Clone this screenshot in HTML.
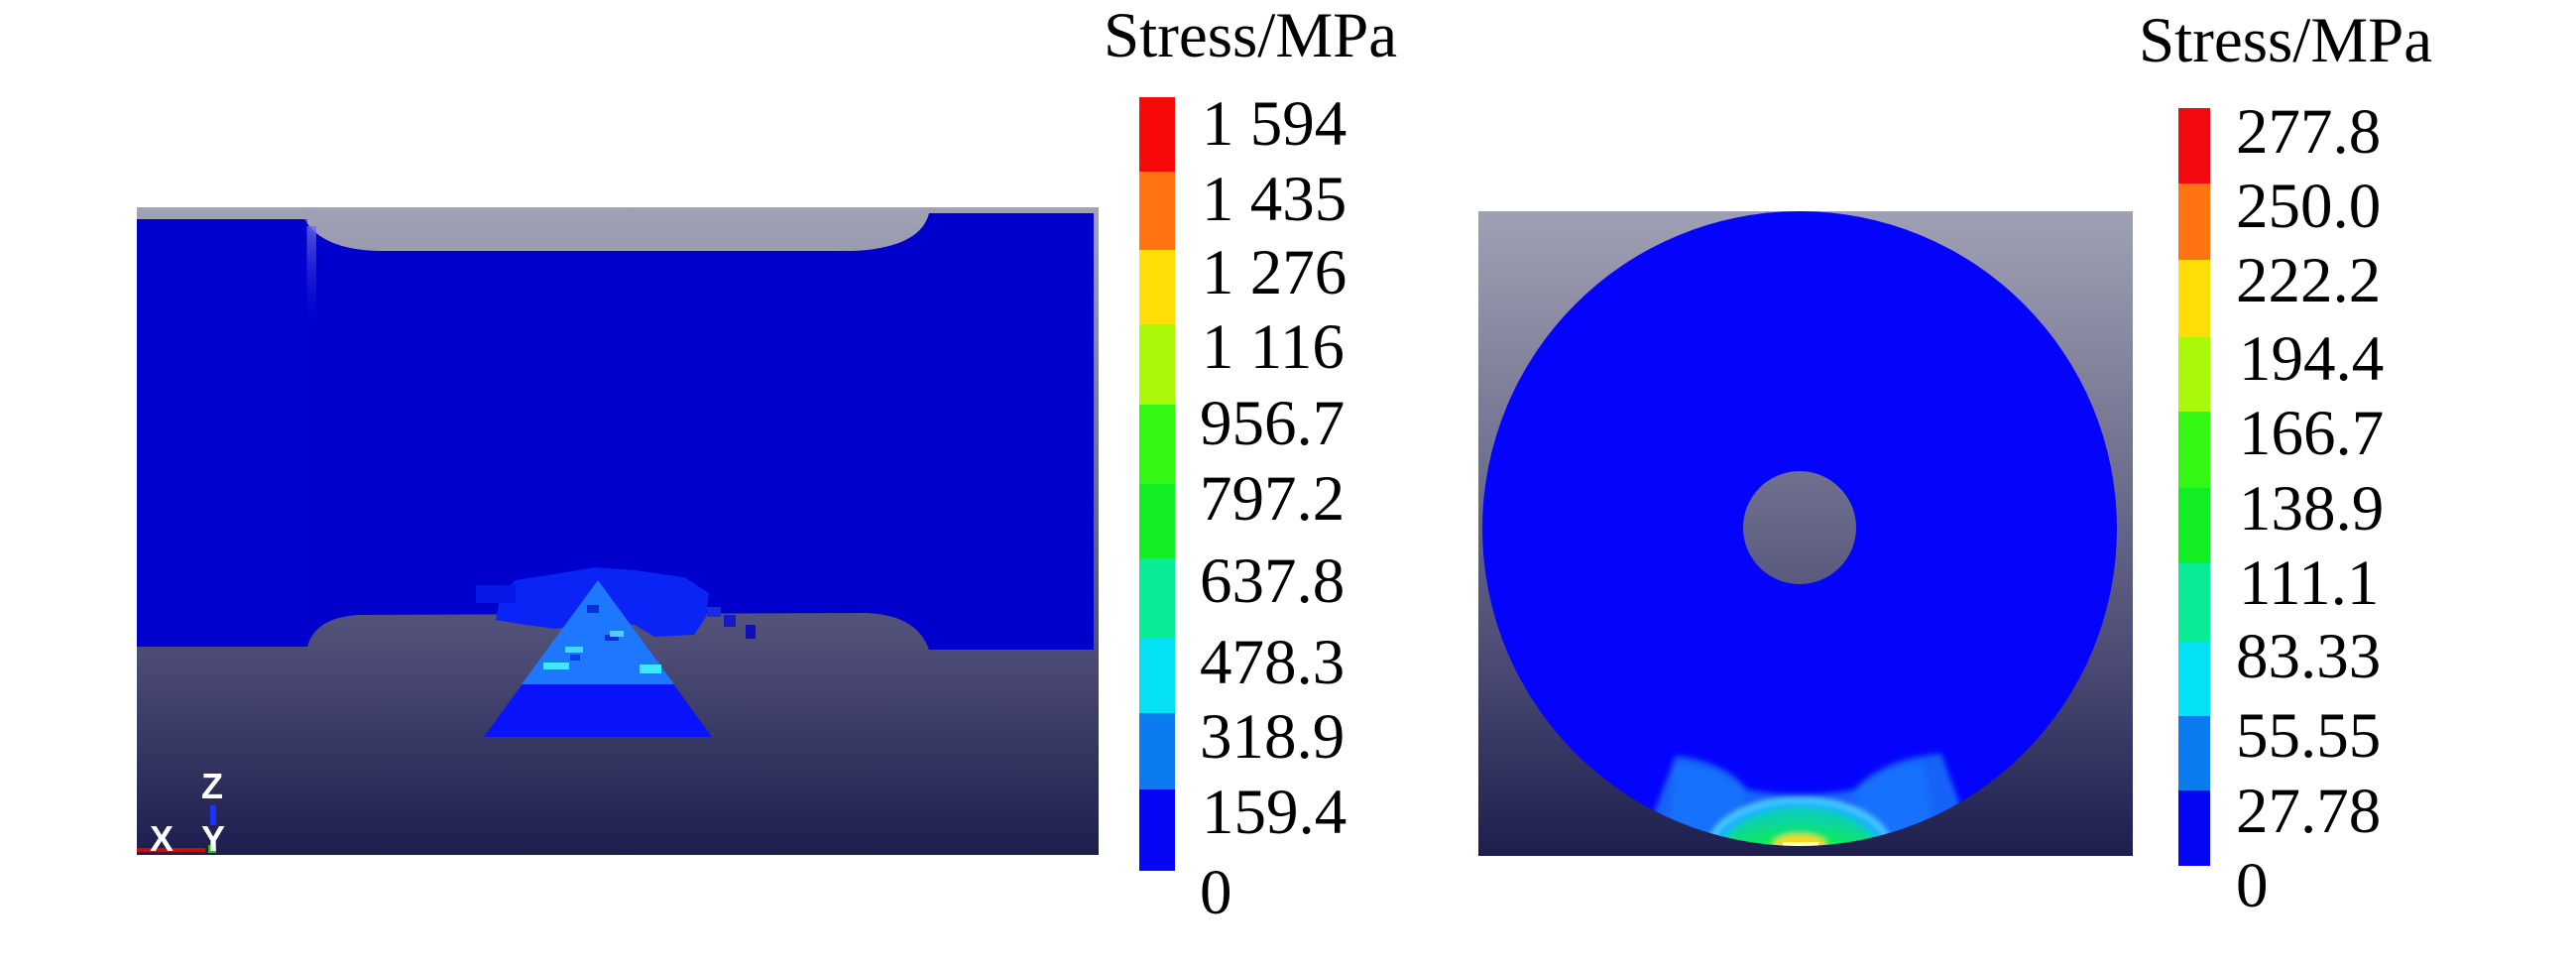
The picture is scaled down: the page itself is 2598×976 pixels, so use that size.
<!DOCTYPE html>
<html>
<head>
<meta charset="utf-8">
<style>
html,body{margin:0;padding:0;background:#fff;}
body{width:2598px;height:976px;overflow:hidden;position:relative;}
svg{position:absolute;left:0;top:0;}
.t{font-family:"Liberation Serif",serif;font-size:65px;fill:#000;}
.ax{font-family:"Liberation Sans",sans-serif;font-weight:bold;font-size:36px;fill:#fff;}
</style>
</head>
<body>
<svg width="2598" height="976" viewBox="0 0 2598 976" xmlns="http://www.w3.org/2000/svg">
<defs>
<linearGradient id="bgL" gradientUnits="userSpaceOnUse" x1="0" y1="209" x2="0" y2="862">
<stop offset="0" stop-color="#a2a2b6"/>
<stop offset="0.45" stop-color="#6a6a8a"/>
<stop offset="0.7" stop-color="#4a4a74"/>
<stop offset="1" stop-color="#1e1e4e"/>
</linearGradient>
<linearGradient id="bgR" gradientUnits="userSpaceOnUse" x1="0" y1="213" x2="0" y2="863">
<stop offset="0" stop-color="#a0a0b4"/>
<stop offset="0.45" stop-color="#6a6a8a"/>
<stop offset="0.7" stop-color="#4a4a74"/>
<stop offset="1" stop-color="#1e1e4e"/>
</linearGradient>
<linearGradient id="streak" x1="0" y1="0" x2="0" y2="1">
<stop offset="0" stop-color="#6a6ae8" stop-opacity="0.8"/>
<stop offset="1" stop-color="#0000cd" stop-opacity="0"/>
</linearGradient>
<radialGradient id="grn" cx="0.5" cy="1" r="0.9">
<stop offset="0" stop-color="#b0f000"/>
<stop offset="0.35" stop-color="#30f020"/>
<stop offset="0.75" stop-color="#10e860"/>
<stop offset="1" stop-color="#10d0b0"/>
</radialGradient>
<filter id="soft" x="-10%" y="-10%" width="120%" height="120%"><feGaussianBlur stdDeviation="3"/></filter>
<clipPath id="circ"><circle cx="1815" cy="533" r="320"/></clipPath>
</defs>

<!-- LEFT PANEL -->
<rect x="138" y="209" width="970" height="653" fill="url(#bgL)"/>
<path d="M138,221 L307,221 Q325,252 383,253 L860,253 Q928,250 937,215 L1103,215 L1103,655 L937,655 Q925,620 873,618 L363,620 Q318,622 310,652 L138,652 Z" fill="#0000cd"/>
<rect x="309" y="228" width="10" height="110" fill="url(#streak)"/>
<rect x="138" y="221" width="172" height="431" fill="#0202d2" opacity="0.5"/>

<!-- blotches near triangle -->
<path d="M505,600 L520,585 L565,578 L600,572 L640,575 L690,582 L715,598 L712,622 L700,640 L660,642 L640,630 L600,628 L560,634 L530,630 L500,625 Z" fill="#0a24f6"/>
<rect x="480" y="590" width="40" height="18" fill="#0818e8"/>
<rect x="730" y="620" width="12" height="12" fill="#1818c8"/>
<rect x="752" y="630" width="10" height="14" fill="#1010b8"/>
<rect x="713" y="612" width="14" height="10" fill="#1a2ae0"/>

<!-- triangle -->
<polygon points="603,585 488,743 718,743" fill="#0a14fa"/>
<polygon points="603,585 526,690 680,690" fill="#1e78ff"/>
<rect x="592" y="610" width="12" height="8" fill="#0a30d8"/>
<rect x="610" y="640" width="14" height="6" fill="#0a30d8"/>
<rect x="575" y="660" width="10" height="6" fill="#0a40e0"/>
<rect x="548" y="668" width="26" height="7" fill="#40e8ff"/>
<rect x="570" y="652" width="18" height="6" fill="#40d8ff"/>
<rect x="645" y="670" width="22" height="9" fill="#40e8ff"/>
<rect x="615" y="636" width="14" height="6" fill="#50d0ff"/>

<!-- axis triad -->
<line x1="138" y1="857" x2="207" y2="857" stroke="#c01010" stroke-width="4"/>
<line x1="215" y1="812" x2="215" y2="832" stroke="#2030ff" stroke-width="6"/>
<rect x="210" y="852" width="8" height="8" fill="#20c020"/>
<text class="ax" x="203" y="805">Z</text>
<text class="ax" x="151" y="858">X</text>
<text class="ax" x="203" y="858">Y</text>

<!-- LEFT COLORBAR -->
<rect x="1149" y="98" width="36" height="75" fill="#f80a0a"/>
<rect x="1149" y="173" width="36" height="79" fill="#ff7410"/>
<rect x="1149" y="252" width="36" height="75" fill="#ffde08"/>
<rect x="1149" y="327" width="36" height="81" fill="#a8f808"/>
<rect x="1149" y="408" width="36" height="80" fill="#34f814"/>
<rect x="1149" y="488" width="36" height="75" fill="#12ee24"/>
<rect x="1149" y="563" width="36" height="81" fill="#08ec98"/>
<rect x="1149" y="644" width="36" height="75" fill="#04e0f4"/>
<rect x="1149" y="719" width="36" height="77" fill="#0a7cf0"/>
<rect x="1149" y="796" width="36" height="82" fill="#0606f6"/>

<text class="t" x="1113" y="57">Stress/MPa</text>
<text class="t" x="1212" y="146">1 594</text>
<text class="t" x="1212" y="222">1 435</text>
<text class="t" x="1212" y="296">1 276</text>
<text class="t" x="1212" y="371">1 116</text>
<text class="t" x="1210" y="448">956.7</text>
<text class="t" x="1210" y="524">797.2</text>
<text class="t" x="1210" y="607">637.8</text>
<text class="t" x="1210" y="689">478.3</text>
<text class="t" x="1210" y="764">318.9</text>
<text class="t" x="1212" y="840">159.4</text>
<text class="t" x="1210" y="921">0</text>

<!-- RIGHT PANEL -->
<rect x="1491" y="213" width="660" height="650" fill="url(#bgR)"/>
<path fill-rule="evenodd" d="M1495,533 A320,320 0 1,0 2135,533 A320,320 0 1,0 1495,533 Z M1758,532 A57,57 0 1,0 1872,532 A57,57 0 1,0 1758,532 Z" fill="#0404fc"/>
<g clip-path="url(#circ)">
<g filter="url(#soft)">
<path d="M1668,820 L1690,762 Q1740,768 1762,796 Q1815,806 1870,796 Q1900,764 1958,760 L1980,820 L1980,880 L1660,880 Z" fill="#1464f8"/>
<path d="M1690,770 Q1740,775 1760,800 L1740,880 L1680,880 Z" fill="#1a80ff" opacity="0.5"/>
<path d="M1940,770 Q1895,775 1870,800 L1890,880 L1955,880 Z" fill="#1a80ff" opacity="0.5"/>
<ellipse cx="1815" cy="858" rx="92" ry="52" fill="#18b0ff" stroke="#60e8ff" stroke-width="3"/>
<ellipse cx="1815" cy="860" rx="80" ry="46" fill="url(#grn)"/>
<ellipse cx="1815" cy="852" rx="26" ry="10" fill="#ffd800"/>
</g>
<rect x="1798" y="849" width="36" height="5" fill="#ffffe0"/>
</g>

<!-- RIGHT COLORBAR -->
<rect x="2197" y="109" width="32" height="76" fill="#f20a10"/>
<rect x="2197" y="185" width="32" height="77" fill="#ff7410"/>
<rect x="2197" y="262" width="32" height="78" fill="#ffde08"/>
<rect x="2197" y="340" width="32" height="75" fill="#a8f808"/>
<rect x="2197" y="415" width="32" height="77" fill="#34f814"/>
<rect x="2197" y="492" width="32" height="76" fill="#12ee24"/>
<rect x="2197" y="568" width="32" height="80" fill="#08ec98"/>
<rect x="2197" y="648" width="32" height="74" fill="#04e0f4"/>
<rect x="2197" y="722" width="32" height="75" fill="#0a7cf0"/>
<rect x="2197" y="797" width="32" height="76" fill="#0606f6"/>

<text class="t" x="2157" y="62">Stress/MPa</text>
<text class="t" x="2255" y="154">277.8</text>
<text class="t" x="2255" y="229">250.0</text>
<text class="t" x="2255" y="304">222.2</text>
<text class="t" x="2258" y="383">194.4</text>
<text class="t" x="2258" y="458">166.7</text>
<text class="t" x="2258" y="534">138.9</text>
<text class="t" x="2258" y="609">111.1</text>
<text class="t" x="2255" y="683">83.33</text>
<text class="t" x="2255" y="763">55.55</text>
<text class="t" x="2255" y="839">27.78</text>
<text class="t" x="2255" y="914">0</text>
</svg>
</body>
</html>
